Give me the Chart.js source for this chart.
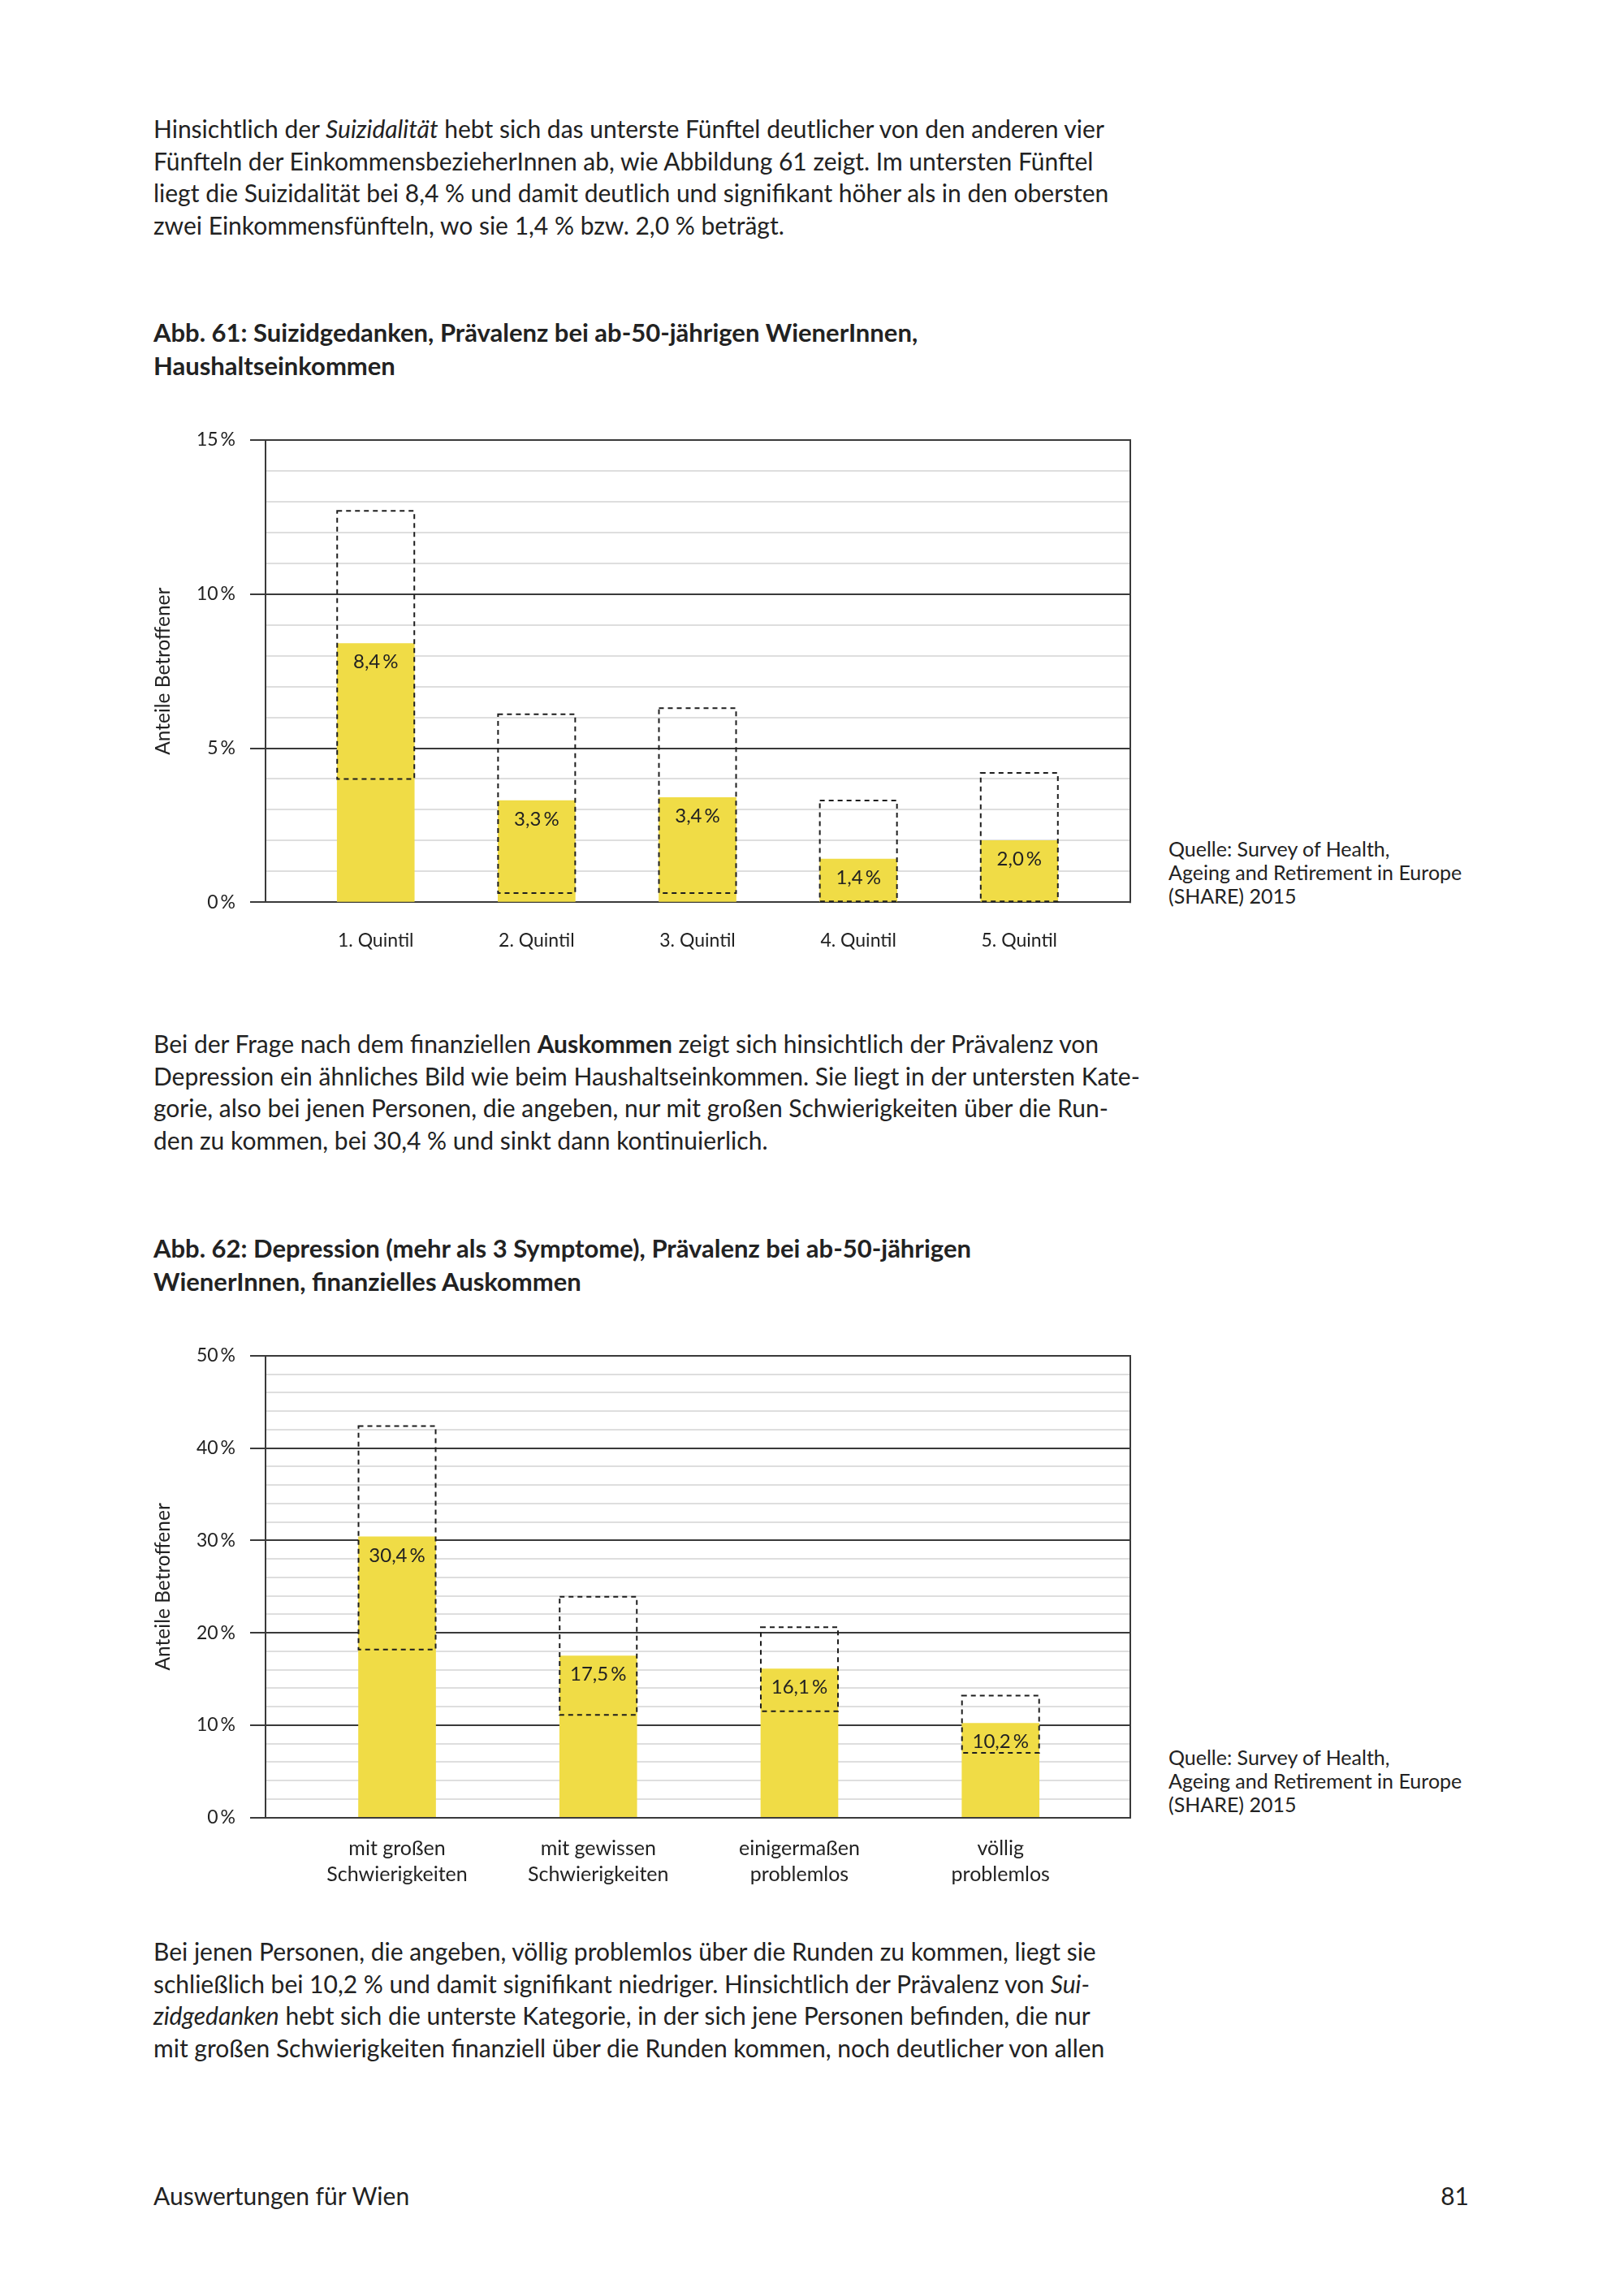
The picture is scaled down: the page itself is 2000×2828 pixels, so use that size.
<!DOCTYPE html>
<html lang="de">
<head>
<meta charset="utf-8">
<title>Auswertungen für Wien</title>
<script src="https://cdn.jsdelivr.net/npm/chart.js@4.4.1/dist/chart.umd.min.js"></script>
<style>
  html, body { margin: 0; padding: 0; background: #fff; }
  body { width: 2000px; height: 2828px; position: relative; font-family: Lato, "Noto Sans", sans-serif; color: #222; }
  .txt { position: absolute; left: 189px; font-size: 30px; line-height: 39.7px; white-space: nowrap; }
  .ttl { position: absolute; left: 189px; font-size: 31px; line-height: 40.5px; font-weight: 700; white-space: nowrap; }
  .src { position: absolute; left: 1439px; font-size: 25px; line-height: 29px; white-space: nowrap; }
  canvas { position: absolute; }
</style>
</head>
<body>

<div class="txt" style="top:139px">
  Hinsichtlich der <i>Suizidalität</i> hebt sich das unterste Fünftel deutlicher von den anderen vier<br>
  Fünfteln der EinkommensbezieherInnen ab, wie Abbildung 61 zeigt. Im untersten Fünftel<br>
  liegt die Suizidalität bei 8,4 % und damit deutlich und signifikant höher als in den obersten<br>
  zwei Einkommensfünfteln, wo sie 1,4 % bzw. 2,0 % beträgt.
</div>

<div class="ttl" style="top:389px">
  Abb. 61: Suizidgedanken, Prävalenz bei ab-50-jährigen WienerInnen,<br>
  Haushaltseinkommen
</div>

<canvas id="chart1" width="1240" height="720" style="left:180px; top:500px"></canvas>

<div class="src" style="top:1031px">
  Quelle: Survey of Health,<br>
  Ageing and Retirement in Europe<br>
  (SHARE) 2015
</div>

<div class="txt" style="top:1266px">
  Bei der Frage nach dem finanziellen <b>Auskommen</b> zeigt sich hinsichtlich der Prävalenz von<br>
  Depression ein ähnliches Bild wie beim Haushaltseinkommen. Sie liegt in der untersten Kate-<br>
  gorie, also bei jenen Personen, die angeben, nur mit großen Schwierigkeiten über die Run-<br>
  den zu kommen, bei 30,4 % und sinkt dann kontinuierlich.
</div>

<div class="ttl" style="top:1517px">
  Abb. 62: Depression (mehr als 3 Symptome), Prävalenz bei ab-50-jährigen<br>
  WienerInnen, finanzielles Auskommen
</div>

<canvas id="chart2" width="1240" height="720" style="left:180px; top:1620px"></canvas>

<div class="src" style="top:2150px">
  Quelle: Survey of Health,<br>
  Ageing and Retirement in Europe<br>
  (SHARE) 2015
</div>

<div class="txt" style="top:2384px">
  Bei jenen Personen, die angeben, völlig problemlos über die Runden zu kommen, liegt sie<br>
  schließlich bei 10,2 % und damit signifikant niedriger. Hinsichtlich der Prävalenz von <i>Sui-</i><br>
  <i>zidgedanken</i> hebt sich die unterste Kategorie, in der sich jene Personen befinden, die nur<br>
  mit großen Schwierigkeiten finanziell über die Runden kommen, noch deutlicher von allen
</div>

<div class="txt" style="top:2685px">Auswertungen für Wien</div>
<div class="txt" style="top:2685px; left:auto; right:191px">81</div>

<script>
// ==========================
// DATA
// ==========================
const quintilLabels = ["1. Quintil", "2. Quintil", "3. Quintil", "4. Quintil", "5. Quintil"];
const suizidValues = [8.4, 3.3, 3.4, 1.4, 2.0];
const suizidLower = [4.0, 0.3, 0.3, 0.0, 0.0];   // confidence interval, lower end
const suizidUpper = [12.7, 6.1, 6.3, 3.3, 4.2];  // confidence interval, upper end
const suizidTicks = { max: 15, step: 1, major: 5 };

const auskommenLabels = [
  ["mit großen", "Schwierigkeiten"],
  ["mit gewissen", "Schwierigkeiten"],
  ["einigermaßen", "problemlos"],
  ["völlig", "problemlos"]
];
const depressionValues = [30.4, 17.5, 16.1, 10.2];
const depressionLower = [18.2, 11.1, 11.5, 7.0];
const depressionUpper = [42.4, 23.9, 20.6, 13.2];
const depressionTicks = { max: 50, step: 2, major: 10 };

const axisTitle = "Anteile Betroffener";

// ==========================
// STYLE
// ==========================
const YELLOW = "#F0DC46";
const DARK = "#3a3a3a";
const LIGHT = "#dedede";
const TEXT = "#222";

Chart.defaults.font.family = 'Lato, "Noto Sans", sans-serif';
Chart.defaults.color = TEXT;

const pct = v => v.toFixed(1).replace(".", ",") + "\u2009%";

// dashed box for the confidence interval (read from the range dataset)
const rangeBoxes = {
  id: "rangeBoxes",
  afterDatasetsDraw(chart) {
    const ctx = chart.ctx;
    const meta = chart.getDatasetMeta(1);
    ctx.save();
    ctx.setLineDash([6, 5]);
    ctx.lineWidth = 2;
    ctx.strokeStyle = "#1e1e1e";
    meta.data.forEach(bar => {
      const { x, y, base, width } = bar.getProps(["x", "y", "base", "width"], true);
      ctx.strokeRect(x - width / 2, Math.min(y, base), width, Math.abs(base - y));
    });
    ctx.restore();
  }
};

// value labels inside the yellow bars
const valueLabels = {
  id: "valueLabels",
  afterDatasetsDraw(chart) {
    const ctx = chart.ctx;
    const meta = chart.getDatasetMeta(0);
    const data = chart.data.datasets[0].data;
    ctx.save();
    ctx.font = '24px Lato, "Noto Sans", sans-serif';
    ctx.fillStyle = TEXT;
    ctx.textAlign = "center";
    ctx.textBaseline = "middle";
    meta.data.forEach((bar, i) => {
      ctx.fillText(pct(data[i].y), bar.x, bar.y + 23);
    });
    ctx.restore();
  }
};

// right border of the plot frame
const frame = {
  id: "frame",
  afterDraw(chart) {
    const { ctx, chartArea } = chart;
    ctx.save();
    ctx.strokeStyle = DARK;
    ctx.lineWidth = 2;
    ctx.beginPath();
    ctx.moveTo(chartArea.right, chartArea.top - 1);
    ctx.lineTo(chartArea.right, chartArea.bottom + 1);
    ctx.stroke();
    ctx.restore();
  }
};

// ==========================
// BUILD CHART
// ==========================
function makeChart(id, labels, values, lower, upper, yt, xRange, layout) {
  const ctx = document.getElementById(id).getContext("2d");
  return new Chart(ctx, {
    type: "bar",
    data: {
      datasets: [
        {
          data: values.map((v, i) => ({ x: i, y: v })),
          backgroundColor: YELLOW,
          borderWidth: 0,
          grouped: false,
          barThickness: 95,
          order: 2
        },
        {
          data: lower.map((lo, i) => ({ x: i, y: [lo, upper[i]] })),
          backgroundColor: "rgba(0,0,0,0)",
          borderWidth: 0,
          grouped: false,
          barThickness: 95,
          order: 1
        }
      ]
    },
    options: {
      responsive: false,
      animation: false,
      devicePixelRatio: 1,
      layout: { padding: { top: layout.top, right: 28, bottom: 0, left: 0 } },
      plugins: { legend: { display: false }, tooltip: { enabled: false } },
      scales: {
        x: {
          type: "linear",
          offset: false,
          min: xRange[0],
          max: xRange[1],
          grid: { display: false, drawTicks: false, offset: false },
          border: { display: true, color: DARK, width: 2 },
          ticks: {
            stepSize: 1,
            includeBounds: false,
            autoSkip: false,
            maxRotation: 0,
            padding: layout.xPad,
            font: { size: layout.xFont, lineHeight: 1.3 },
            callback: v => labels[Math.round(v)] ?? ""
          },
          afterFit: s => { s.height = layout.xHeight; }
        },
        y: {
          min: 0,
          max: yt.max,
          grid: {
            color: c => (c.tick.value % yt.major === 0 ? DARK : LIGHT),
            tickColor: c => (c.tick.value % yt.major === 0 ? DARK : "rgba(0,0,0,0)"),
            lineWidth: 2,
            tickLength: 19
          },
          border: { display: true, color: DARK, width: 2 },
          ticks: {
            stepSize: yt.step,
            autoSkip: false,
            padding: 18,
            font: { size: 23 },
            callback: v => (v % yt.major === 0 ? v + "\u2009%" : "")
          },
          title: {
            display: true,
            text: axisTitle,
            font: { size: 24.5 },
            padding: { top: 6, bottom: 4 }
          },
          afterFit: s => { s.width = 147; }
        }
      }
    },
    plugins: [rangeBoxes, valueLabels, frame]
  });
}

makeChart("chart1", quintilLabels, suizidValues, suizidLower, suizidUpper, suizidTicks,
  [-0.685, 4.69], { top: 42, xPad: 32, xHeight: 108.7, xFont: 23 });

makeChart("chart2", auskommenLabels, depressionValues, depressionLower, depressionUpper, depressionTicks,
  [-0.654, 3.645], { top: 50, xPad: 22, xHeight: 101.4, xFont: 25 });
</script>
</body>
</html>
